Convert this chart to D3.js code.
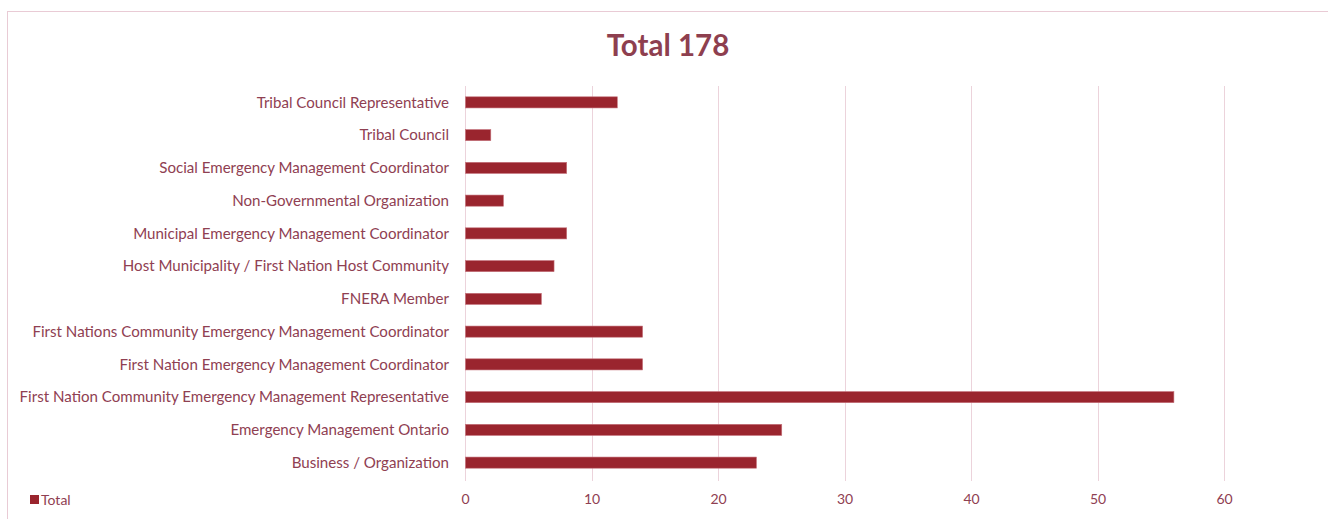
<!DOCTYPE html>
<html><head><meta charset="utf-8">
<script src="https://cdn.jsdelivr.net/npm/d3@7"></script>
<style>
html,body{margin:0;padding:0;background:#fff;}
svg{display:block;font-family:Lato,"Open Sans",sans-serif;}
</style></head>
<body><svg id="c" width="1328" height="519"></svg>
<script>
const categories = [
  "Tribal Council Representative",
  "Tribal Council",
  "Social Emergency Management Coordinator",
  "Non-Governmental Organization",
  "Municipal Emergency Management Coordinator",
  "Host Municipality / First Nation Host Community",
  "FNERA Member",
  "First Nations Community Emergency Management Coordinator",
  "First Nation Emergency Management Coordinator",
  "First Nation Community Emergency Management Representative",
  "Emergency Management Ontario",
  "Business / Organization"
];
const totals = [12, 2, 8, 3, 8, 7, 6, 14, 14, 56, 25, 23];
const xTicks = [0, 10, 20, 30, 40, 50, 60];
const seriesName = "Total";
const titleText = "Total 178";

const svg = d3.select("#c");
const textColor = "#8f4052";
const barColor = "#9a252e";
const gridColor = "#ecd3db";

// chart border
svg.append("rect").attr("x",7.5).attr("y",11.5).attr("width",1330).attr("height",540)
  .attr("fill","none").attr("stroke","#e9cbd5").attr("stroke-width",1);

const x = d3.scaleLinear().domain([0,60]).range([465,1224]);
const y = d3.scaleBand().domain(categories).range([86,479]).paddingInner(0.66).paddingOuter(0.33);

// gridlines
svg.append("g").selectAll("line").data(xTicks).join("line")
  .attr("x1",d=>Math.round(x(d))+0.5).attr("x2",d=>Math.round(x(d))+0.5)
  .attr("y1",86).attr("y2",481).attr("stroke",gridColor).attr("stroke-width",1);

// bars
svg.append("g").selectAll("rect").data(categories).join("rect")
  .attr("x",x(0)+0.5).attr("y",d=>y(d))
  .attr("width",(d,i)=>x(totals[i])-x(0)).attr("height",y.bandwidth())
  .attr("fill",barColor).attr("stroke","#c5737c").attr("stroke-width",0.6);

// y labels
svg.append("g").selectAll("text").data(categories).join("text")
  .attr("x",449).attr("y",d=>y(d)+y.bandwidth()/2).attr("dy","0.35em")
  .attr("text-anchor","end").attr("fill",textColor).attr("font-size",15.1)
  .text(d=>d);

// x tick labels via axis
const xAxis = d3.axisBottom(x).tickValues(xTicks).tickSize(0).tickPadding(0);
const ax = svg.append("g").attr("transform","translate(0,494)").call(xAxis);
ax.select(".domain").remove();
ax.selectAll("text").attr("fill",textColor).attr("font-size",14)
  .attr("font-family","Lato,'Open Sans',sans-serif");

// title
svg.append("text").attr("x",668).attr("y",56).attr("text-anchor","middle")
  .attr("fill","#8e3f4f").attr("font-size",29.5).attr("font-weight","bold").text(titleText);

// legend
svg.append("rect").attr("x",30).attr("y",495).attr("width",9).attr("height",9).attr("fill",barColor);
svg.append("text").attr("x",41).attr("y",500).attr("dy","0.35em").attr("fill",textColor)
  .attr("font-size",14).text(seriesName);
</script></body></html>
